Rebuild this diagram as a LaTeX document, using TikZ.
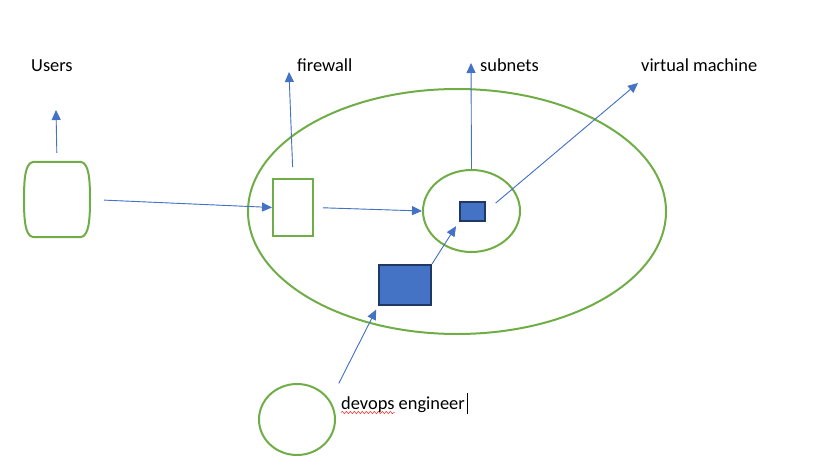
\documentclass[tikz,border=0pt]{standalone}
\usepackage{fontspec}
\setmainfont{Carlito}
\usetikzlibrary{arrows.meta,shapes.geometric,decorations.pathmorphing}
\definecolor{offgreen}{HTML}{70AD47}
\definecolor{offblue}{HTML}{4472C4}
\definecolor{offnavy}{HTML}{1F3864}

\begin{document}
\begin{tikzpicture}[x=1pt,y=-1pt,>={Triangle[length=10pt,width=9pt]},
 every node/.style={font=\fontsize{18.4}{22}\selectfont,inner sep=0pt},
 grn/.style={draw=offgreen,line width=2pt},
 arr/.style={->,draw=offblue,fill=offblue,line width=0.9pt},
 solidbox/.style={draw=offnavy,fill=offblue,line width=2pt}]
\useasboundingbox (0,0) rectangle (826,465);
% shapes
\draw[grn] (33,162) -- (81,162) .. controls (89,163) and (90,180) .. (90,199.5)
 .. controls (90,219) and (89,236) .. (81,237) -- (33,237) .. controls (25,236) and (24,219) .. (24,199.5)
 .. controls (24,180) and (25,163) .. (33,162) -- cycle;
\node[minimum width=66pt,minimum height=75pt] (users) at (57,199.5) {};
\node[grn,ellipse,minimum width=418pt,minimum height=245pt] (cloud) at (457,211.5) {};
\node[grn,minimum width=40pt,minimum height=57pt] (fw) at (293,207.5) {};
\node[grn,ellipse,minimum width=97pt,minimum height=82pt] (net) at (471.5,211) {};
\node[solidbox,minimum width=25pt,minimum height=19pt] (vm) at (472.2,211.5) {};
\node[solidbox,minimum width=52pt,minimum height=40pt] (bluebox) at (405,285) {};
\node[grn,ellipse,minimum width=76pt,minimum height=71pt] (dev) at (297,419.5) {};
% labels
\node[anchor=base west] (userlbl) at (31,72) {Users};
\node[anchor=base west] (fwlbl) at (297,72) {firewall};
\node[anchor=base west] (netlbl) at (480,72) {subnets};
\node[anchor=base west] (vmlbl) at (641,72) {virtual machine};
\node[anchor=base west] (devlbl) at (341,409) {devops engineer};
\draw[red,decorate,decoration={snake,segment length=4pt,amplitude=1.2pt}]
 ([yshift=-3.5pt]devlbl.base west) -- ++(54,0);
\draw[line width=0.8pt] ([xshift=2pt]devlbl.base east) ++(0,5) -- ++(0,-21);
% arrows
\coordinate (usertip) at (56,110);
\coordinate (fwtip) at (289,72);
\coordinate (nettip) at (471,63);
\coordinate (vmtip) at (638,83);
\draw[arr,shorten <=9pt] (users.north) -- (usertip);
\draw[arr,shorten <=14pt] (users.east) -- (fw.west);
\draw[arr,shorten <=11pt] (fw.north) -- (fwtip);
\draw[arr,shorten <=9pt] (fw.east) -- (net.west);
\draw[arr] (net.north) -- (nettip);
\draw[arr,shorten <=13pt] (vm.east) -- (vmtip);
\draw[arr,shorten >=5pt] (bluebox.north east) -- (vm.south west);
\draw[arr,shorten <=19pt,shorten >=4pt] (dev.30) -- (bluebox.south west);
\end{tikzpicture}
\end{document}
